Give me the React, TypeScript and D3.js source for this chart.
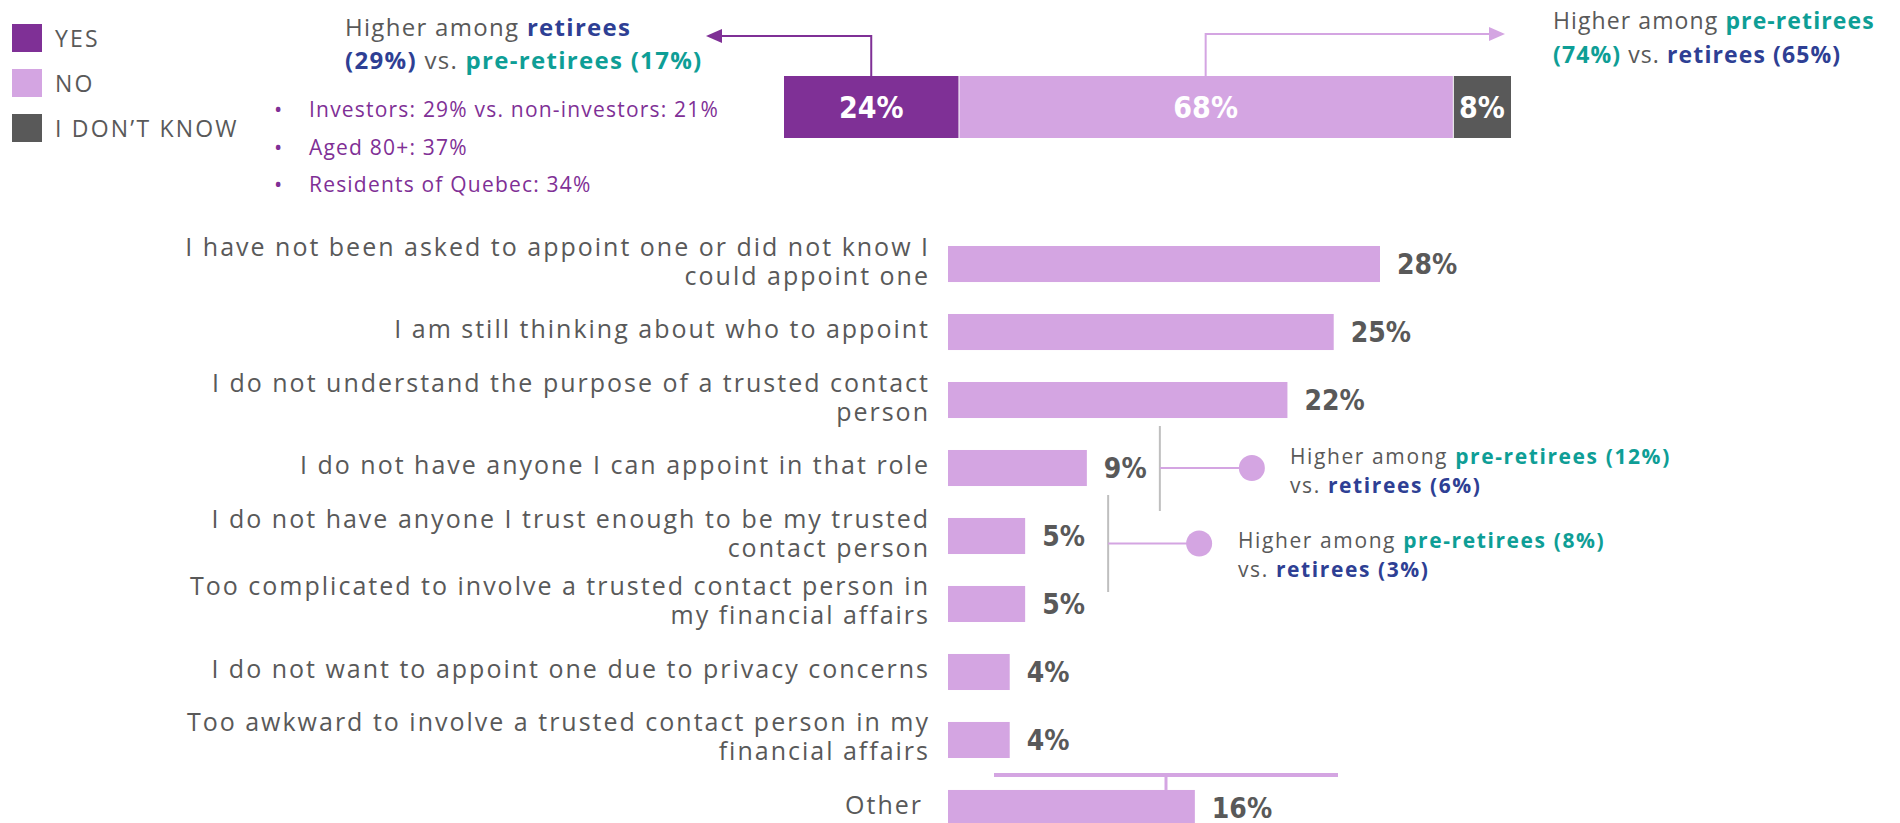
import React from "react";
import * as d3 from "d3";

const stackKeys = ["YES", "NO", "I DON\u2019T KNOW"];
const stackValues = [24, 68, 8];
const stackColors = ["#7f3096", "#d4a5e2", "#595959"];

const categories = [
  "I have not been asked to appoint one or did not know I|could appoint one",
  "I am still thinking about who to appoint",
  "I do not understand the purpose of a trusted contact|person",
  "I do not have anyone I can appoint in that role",
  "I do not have anyone I trust enough to be my trusted|contact person",
  "Too complicated to involve a trusted contact person in|my financial affairs",
  "I do not want to appoint one due to privacy concerns",
  "Too awkward to involve a trusted contact person in my|financial affairs",
  "Other",
];
const values = [28, 25, 22, 9, 5, 5, 4, 4, 16];

const bullets = [
  "Investors: 29% vs. non-investors: 21%",
  "Aged 80+: 37%",
  "Residents of Quebec: 34%",
];

const TEAL = "#0e9e96";
const BLUE = "#2e3f94";
const GRAY = "#595959";
const PURPLE = "#7f3096";
const LILAC = "#d4a5e2";
const FONT = "'Open Sans', 'DejaVu Sans', sans-serif";
const NUMFONT = "'DejaVu Sans Condensed', 'DejaVu Sans', sans-serif";

export default function App() {
  const W = 1900, H = 823;
  const x = d3.scaleLinear().domain([0, 28]).range([948, 1380]);
  const y = d3.scaleBand().domain(categories).range([212, 860]).paddingInner(0.47).paddingOuter(0.5);
  const bw = y.bandwidth();

  const xt = d3.scaleLinear().domain([0, 100]).range([784, 1511]);
  const ends = d3.cumsum(stackValues);
  const segs = stackValues.map((v, i) => ({ key: stackKeys[i], v, x0: ends[i] - v, x1: ends[i], c: stackColors[i] }));
  const topY0 = 76, topY1 = 138;

  const yesMid = xt((segs[0].x0 + segs[0].x1) / 2);
  const noMid = xt((segs[1].x0 + segs[1].x1) / 2);

  const c4 = categories[3], c5 = categories[4], c6 = categories[5], c8 = categories[8];
  const b1x = x(values[3]) + 73;
  const b1y0 = (y(c4) as number) - 24, b1y1 = (y(c4) as number) + bw + 25;
  const b1mid = (y(c4) as number) + bw / 2;
  const b2x = x(values[4]) + 83;
  const b2y0 = (y(c5) as number) - 23, b2y1 = (y(c6) as number) + bw - 30;
  const b2mid = (b2y0 + b2y1) / 2;
  const otherTop = y(c8) as number;

  return (
    <svg width={W} height={H} style={{ position: "absolute", left: 0, top: 0, display: "block", background: "#fff" }} fontFamily={FONT}>
      {/* legend */}
      {stackKeys.map((k, i) => (
        <g key={k}>
          <rect x={12} y={24 + i * 45} width={30} height={28} fill={stackColors[i]} />
          <text x={55} y={47 + i * 45} fontSize={23} letterSpacing={2.2} fill={GRAY}>{k}</text>
        </g>
      ))}

      {/* left annotation */}
      <text x={345} y={36} fontSize={24} letterSpacing={1.3} fill={GRAY}>
        <tspan>Higher among </tspan><tspan fontWeight="bold" fill={BLUE}>retirees</tspan>
        <tspan x={345} dy={33} fontWeight="bold" fill={BLUE}>(29%)</tspan><tspan> vs. </tspan><tspan fontWeight="bold" fill={TEAL}>pre-retirees (17%)</tspan>
      </text>
      {bullets.map((b, i) => (
        <g key={b}>
          <text x={274} y={117 + i * 37.5} fontSize={22} fill={PURPLE}>•</text>
          <text x={309} y={117 + i * 37.5} fontSize={21} letterSpacing={1.2} fill={PURPLE}>{b}</text>
        </g>
      ))}

      {/* arrows */}
      <path d={`M${yesMid},${topY0} V36 H${719}`} fill="none" stroke={PURPLE} strokeWidth={2} />
      <polygon points={`706,36 722,29 722,43`} fill={PURPLE} />
      <path d={`M${noMid},${topY0} V34 H${1492}`} fill="none" stroke={LILAC} strokeWidth={2} />
      <polygon points={`1505,34 1489,27 1489,41`} fill={LILAC} />

      {/* right annotation */}
      <text x={1553} y={29} fontSize={23} letterSpacing={1.1} fill={GRAY}>
        <tspan>Higher among </tspan><tspan fontWeight="bold" fill={TEAL}>pre-retirees</tspan>
        <tspan x={1553} dy={34} fontWeight="bold" fill={TEAL}>(74%)</tspan><tspan> vs. </tspan><tspan fontWeight="bold" fill={BLUE}>retirees (65%)</tspan>
      </text>

      {/* stacked top bar */}
      {segs.map((s, i) => (
        <g key={s.key}>
          <rect x={xt(s.x0) + (i > 0 ? 1 : 0)} y={topY0} width={xt(s.x1) - xt(s.x0) - (i > 0 ? 1 : 0)} height={topY1 - topY0} fill={s.c} />
          <text x={(xt(s.x0) + xt(s.x1)) / 2} y={(topY0 + topY1) / 2} dy="0.36em" textAnchor="middle" fontFamily={NUMFONT} fontWeight="bold" fontSize={30} fill="#fff">{s.v}%</text>
        </g>
      ))}

      {/* bars */}
      {categories.map((c, i) => {
        const lines = c.split("|");
        const cy = (y(c) as number) + bw / 2;
        const lh = 29;
        const tx = c === "Other" ? 923 : 930;
        const y0 = cy - ((lines.length - 1) * lh) / 2 - 3 + 9;
        return (
          <g key={c}>
            <rect x={x(0)} y={y(c)} width={x(values[i]) - x(0)} height={bw} fill={LILAC} />
            <text x={x(values[i]) + 17} y={cy} dy="0.36em" fontFamily={NUMFONT} fontWeight="bold" fontSize={28} fill={GRAY}>{values[i]}%</text>
            <text x={tx} y={y0} textAnchor="end" fontSize={25} letterSpacing={2} fill={GRAY}>
              {lines.map((l, j) => (
                <tspan key={j} x={tx} dy={j === 0 ? 0 : lh}>{l}</tspan>
              ))}
            </text>
          </g>
        );
      })}

      {/* bracket 1 */}
      <line x1={b1x} x2={b1x} y1={b1y0} y2={b1y1} stroke="#bfbfbf" strokeWidth={2} />
      <line x1={b1x} x2={b1x + 92} y1={b1mid} y2={b1mid} stroke={LILAC} strokeWidth={2} />
      <circle cx={b1x + 92} cy={b1mid} r={13} fill={LILAC} />
      <text x={1290} y={464} fontSize={21} letterSpacing={1.6} fill={GRAY}>
        <tspan>Higher among </tspan><tspan fontWeight="bold" fill={TEAL}>pre-retirees (12%)</tspan>
        <tspan x={1290} dy={29}>vs. </tspan><tspan fontWeight="bold" fill={BLUE}>retirees (6%)</tspan>
      </text>

      {/* bracket 2 */}
      <line x1={b2x} x2={b2x} y1={b2y0} y2={b2y1} stroke="#bfbfbf" strokeWidth={2} />
      <line x1={b2x} x2={b2x + 91} y1={b2mid} y2={b2mid} stroke={LILAC} strokeWidth={2} />
      <circle cx={b2x + 91} cy={b2mid} r={13} fill={LILAC} />
      <text x={1238} y={548} fontSize={21} letterSpacing={1.6} fill={GRAY}>
        <tspan>Higher among </tspan><tspan fontWeight="bold" fill={TEAL}>pre-retirees (8%)</tspan>
        <tspan x={1238} dy={29}>vs. </tspan><tspan fontWeight="bold" fill={BLUE}>retirees (3%)</tspan>
      </text>

      {/* bottom bracket */}
      <line x1={994} x2={1338} y1={otherTop - 15} y2={otherTop - 15} stroke={LILAC} strokeWidth={4} />
      <line x1={1166} x2={1166} y1={otherTop - 15} y2={otherTop} stroke={LILAC} strokeWidth={3} />
    </svg>
  );
}
